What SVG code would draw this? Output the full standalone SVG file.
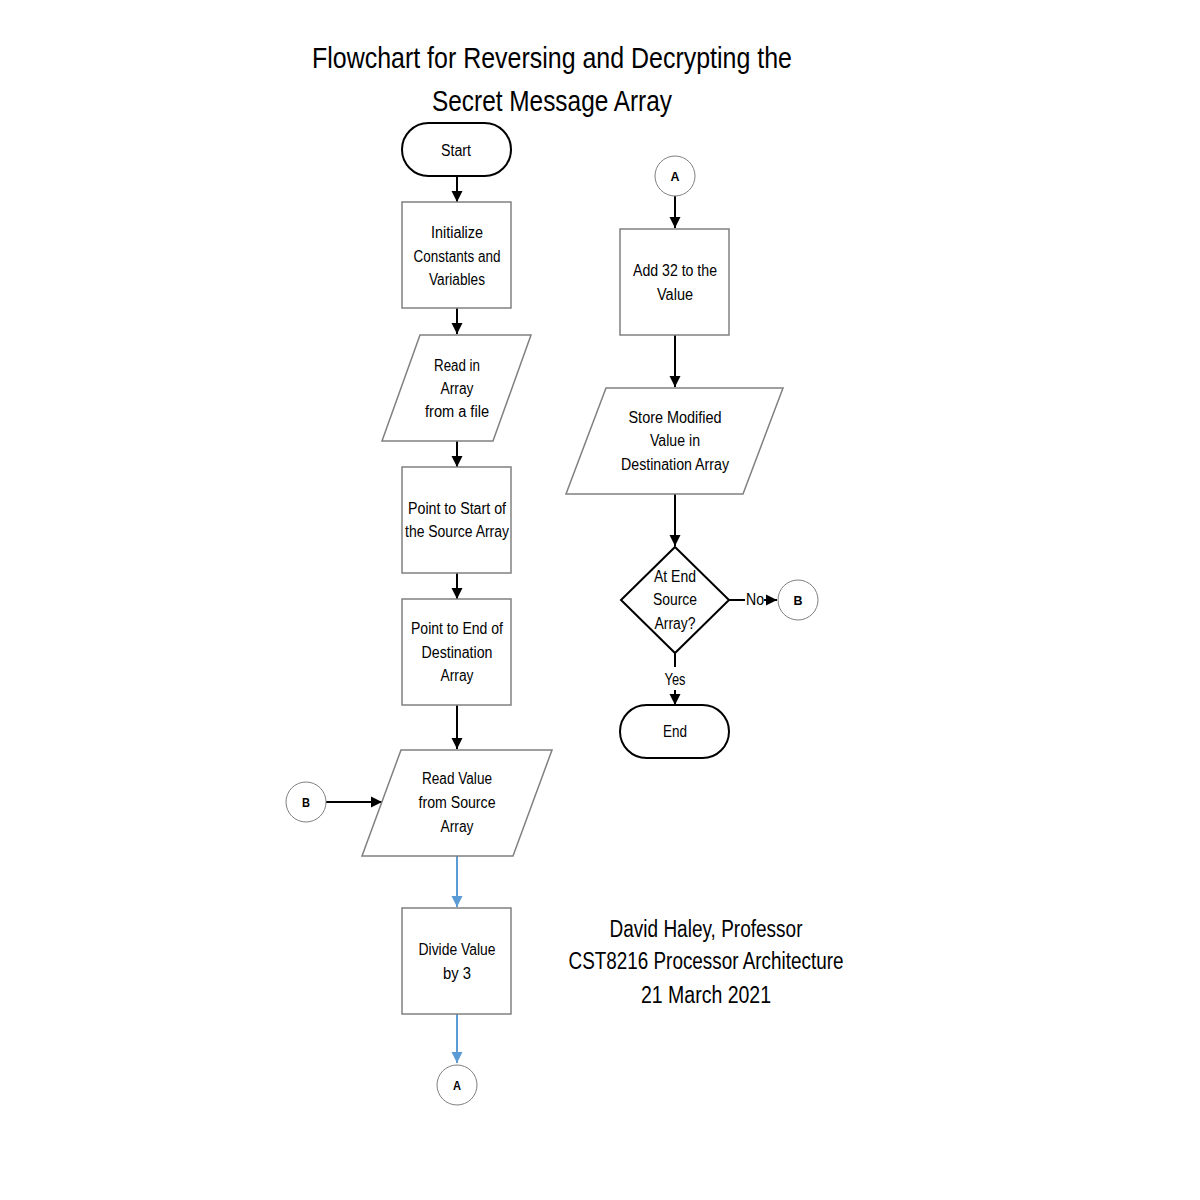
<svg xmlns="http://www.w3.org/2000/svg" width="1200" height="1200" viewBox="0 0 1200 1200">
<defs>
<marker id="ah" viewBox="0 0 10 10" refX="10" refY="5" markerWidth="11" markerHeight="12" markerUnits="userSpaceOnUse" orient="auto"><path d="M0,0 L10,5 L0,10 z" fill="#000"/></marker>
<marker id="ahb" viewBox="0 0 10 10" refX="10" refY="5" markerWidth="11" markerHeight="12" markerUnits="userSpaceOnUse" orient="auto"><path d="M0,0 L10,5 L0,10 z" fill="#5b9bd5"/></marker>
<style>
.box{fill:#fff;stroke:#808080;stroke-width:1.5}
.term{fill:#fff;stroke:#000;stroke-width:2}
.circ{fill:#fff;stroke:#808080;stroke-width:1}
.t{font-family:"Liberation Sans",Arial,sans-serif;font-size:16px;fill:#000;text-anchor:middle}
.ts{font-family:"Liberation Sans",Arial,sans-serif;font-size:13px;font-weight:bold;fill:#000;text-anchor:middle}
.big{font-family:"Liberation Sans",Arial,sans-serif;font-size:29px;fill:#000;text-anchor:middle}
.foot{font-family:"Liberation Sans",Arial,sans-serif;font-size:23px;fill:#000;text-anchor:middle}
.c{stroke:#000;stroke-width:2;fill:none}
.cb{stroke:#5b9bd5;stroke-width:2;fill:none}
</style>
</defs>
<rect width="1200" height="1200" fill="#fff"/>
<g id="title">
<text class="big" x="552" y="68" textLength="480" lengthAdjust="spacingAndGlyphs">Flowchart for Reversing and Decrypting the</text>
<text class="big" x="552" y="111" textLength="240" lengthAdjust="spacingAndGlyphs">Secret Message Array</text>
</g>
<g id="connectors">
<line class="c" x1="457" y1="176" x2="457" y2="202" marker-end="url(#ah)"/>
<line class="c" x1="457" y1="308" x2="457" y2="334" marker-end="url(#ah)"/>
<line class="c" x1="457" y1="441" x2="457" y2="467" marker-end="url(#ah)"/>
<line class="c" x1="457" y1="573" x2="457" y2="599" marker-end="url(#ah)"/>
<line class="c" x1="457" y1="705" x2="457" y2="749" marker-end="url(#ah)"/>
<line class="c" x1="326" y1="802" x2="382" y2="802" marker-end="url(#ah)"/>
<line class="cb" x1="457" y1="856" x2="457" y2="907" marker-end="url(#ahb)"/>
<line class="cb" x1="457" y1="1014" x2="457" y2="1063" marker-end="url(#ahb)"/>
<line class="c" x1="675" y1="196" x2="675" y2="228" marker-end="url(#ah)"/>
<line class="c" x1="675" y1="335" x2="675" y2="387" marker-end="url(#ah)"/>
<line class="c" x1="675" y1="494" x2="675" y2="546" marker-end="url(#ah)"/>
<line class="c" x1="729" y1="600" x2="745" y2="600"/>
<line class="c" x1="764" y1="600" x2="777" y2="600" marker-end="url(#ah)"/>
<text class="t" x="755" y="605" textLength="18" lengthAdjust="spacingAndGlyphs">No</text>
<line class="c" x1="675" y1="653" x2="675" y2="667"/>
<line class="c" x1="675" y1="690" x2="675" y2="705" marker-end="url(#ah)"/>
<text class="t" x="675" y="685" textLength="21" lengthAdjust="spacingAndGlyphs">Yes</text>
</g>
<g id="start">
<rect class="term" x="402" y="123" width="109" height="53" rx="26.5"/>
<text class="t" x="456" y="156" textLength="30" lengthAdjust="spacingAndGlyphs">Start</text>
</g>
<g id="init">
<rect class="box" x="402" y="202" width="109" height="106"/>
<text class="t" x="457" y="238" textLength="52" lengthAdjust="spacingAndGlyphs">Initialize</text>
<text class="t" x="457" y="262" textLength="87" lengthAdjust="spacingAndGlyphs">Constants and</text>
<text class="t" x="457" y="285" textLength="56" lengthAdjust="spacingAndGlyphs">Variables</text>
</g>
<g id="readin">
<polygon class="box" points="420,335 531,335 493,441 382,441"/>
<text class="t" x="457" y="371" textLength="46" lengthAdjust="spacingAndGlyphs">Read in</text>
<text class="t" x="457" y="394" textLength="33" lengthAdjust="spacingAndGlyphs">Array</text>
<text class="t" x="457" y="417" textLength="64" lengthAdjust="spacingAndGlyphs">from a file</text>
</g>
<g id="pstart">
<rect class="box" x="402" y="467" width="109" height="106"/>
<text class="t" x="457" y="514" textLength="98" lengthAdjust="spacingAndGlyphs">Point to Start of</text>
<text class="t" x="457" y="537" textLength="104" lengthAdjust="spacingAndGlyphs">the Source Array</text>
</g>
<g id="pend">
<rect class="box" x="402" y="599" width="109" height="106"/>
<text class="t" x="457" y="634" textLength="92" lengthAdjust="spacingAndGlyphs">Point to End of</text>
<text class="t" x="457" y="658" textLength="71" lengthAdjust="spacingAndGlyphs">Destination</text>
<text class="t" x="457" y="681" textLength="33" lengthAdjust="spacingAndGlyphs">Array</text>
</g>
<g id="readval">
<polygon class="box" points="401,750 552,750 513,856 362,856"/>
<text class="t" x="457" y="784" textLength="70" lengthAdjust="spacingAndGlyphs">Read Value</text>
<text class="t" x="457" y="808" textLength="77" lengthAdjust="spacingAndGlyphs">from Source</text>
<text class="t" x="457" y="832" textLength="33" lengthAdjust="spacingAndGlyphs">Array</text>
</g>
<g id="b-left">
<circle class="circ" cx="306" cy="802" r="20"/>
<text class="ts" x="306" y="807" textLength="8" lengthAdjust="spacingAndGlyphs">B</text>
</g>
<g id="divide">
<rect class="box" x="402" y="908" width="109" height="106"/>
<text class="t" x="457" y="955" textLength="77" lengthAdjust="spacingAndGlyphs">Divide Value</text>
<text class="t" x="457" y="979" textLength="28" lengthAdjust="spacingAndGlyphs">by 3</text>
</g>
<g id="a-bottom">
<circle class="circ" cx="457" cy="1085" r="20"/>
<text class="ts" x="457" y="1090" textLength="8" lengthAdjust="spacingAndGlyphs">A</text>
</g>
<g id="a-top">
<circle class="circ" cx="675" cy="176" r="20"/>
<text class="ts" x="675" y="181" textLength="9" lengthAdjust="spacingAndGlyphs">A</text>
</g>
<g id="add32">
<rect class="box" x="620" y="229" width="109" height="106"/>
<text class="t" x="675" y="276" textLength="84" lengthAdjust="spacingAndGlyphs">Add 32 to the</text>
<text class="t" x="675" y="300" textLength="36" lengthAdjust="spacingAndGlyphs">Value</text>
</g>
<g id="store">
<polygon class="box" points="606,388 783,388 743,494 566,494"/>
<text class="t" x="675" y="423" textLength="93" lengthAdjust="spacingAndGlyphs">Store Modified</text>
<text class="t" x="675" y="446" textLength="50" lengthAdjust="spacingAndGlyphs">Value in</text>
<text class="t" x="675" y="470" textLength="108" lengthAdjust="spacingAndGlyphs">Destination Array</text>
</g>
<g id="decision">
<polygon class="term" points="675,547 729,600 675,653 621,600"/>
<text class="t" x="675" y="582" textLength="42" lengthAdjust="spacingAndGlyphs">At End</text>
<text class="t" x="675" y="605" textLength="44" lengthAdjust="spacingAndGlyphs">Source</text>
<text class="t" x="675" y="629" textLength="41" lengthAdjust="spacingAndGlyphs">Array?</text>
</g>
<g id="b-right">
<circle class="circ" cx="798" cy="600" r="20"/>
<text class="ts" x="798" y="605" textLength="9" lengthAdjust="spacingAndGlyphs">B</text>
</g>
<g id="end">
<rect class="term" x="620" y="705" width="109" height="53" rx="26.5"/>
<text class="t" x="675" y="737" textLength="24" lengthAdjust="spacingAndGlyphs">End</text>
</g>
<g id="footer">
<text class="foot" x="706" y="937" textLength="193" lengthAdjust="spacingAndGlyphs">David Haley, Professor</text>
<text class="foot" x="706" y="969" textLength="275" lengthAdjust="spacingAndGlyphs">CST8216 Processor Architecture</text>
<text class="foot" x="706" y="1003" textLength="130" lengthAdjust="spacingAndGlyphs">21 March 2021</text>
</g>
</svg>
